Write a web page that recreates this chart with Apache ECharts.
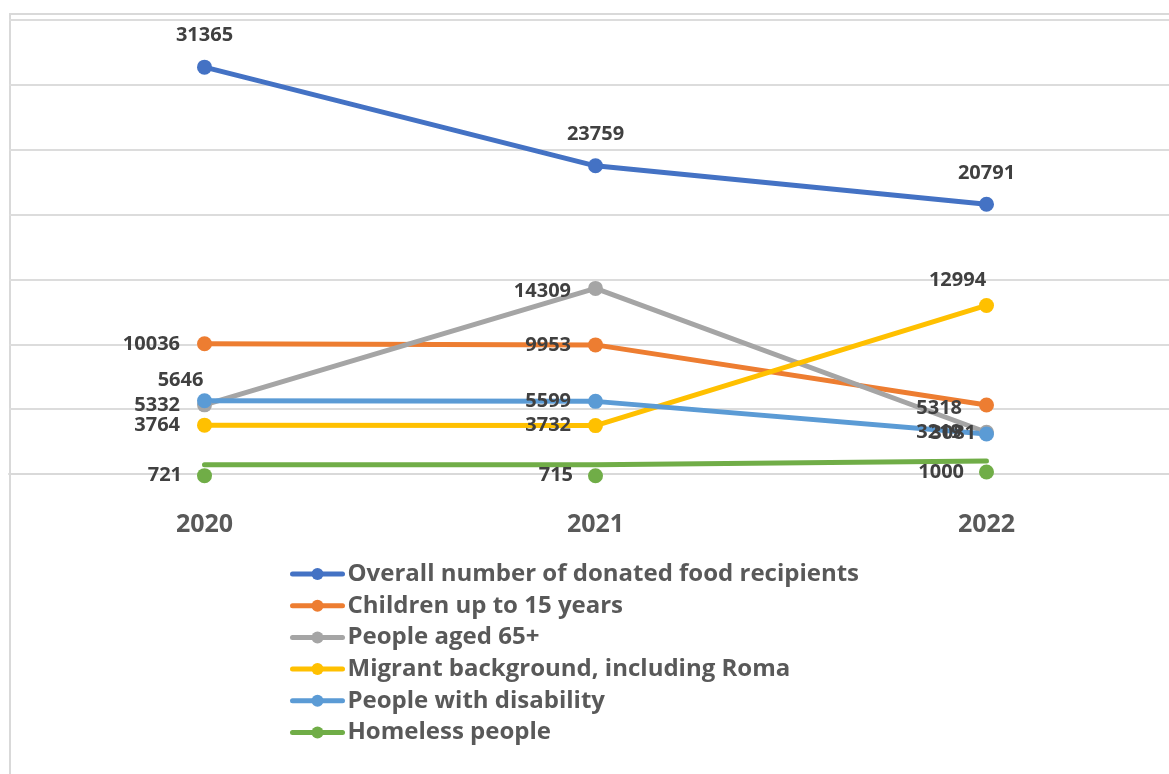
<!DOCTYPE html>
<html>
<head>
<meta charset="utf-8">
<script src="https://cdn.jsdelivr.net/npm/echarts@6/dist/echarts.min.js"></script>
<style>
  html, body { margin: 0; padding: 0; background: #ffffff; overflow: hidden; }
  #chart { width: 1190px; height: 774px; }
</style>
</head>
<body>
<div id="chart"></div>
<script>
// Years on the category axis
const years = ['2020', '2021', '2022'];

// Recipients per group and year
const overall = [31365, 23759, 20791];
const children = [10036, 9953, 5318];
const aged65 = [5332, 14309, 3219];
const migrant = [3764, 3732, 12994];
const disability = [5646, 5599, 3081];
const homeless = [721, 715, 1000];

const FONT = '"Open Sans", sans-serif';
const LABEL_COLOR = '#404040';

const baseLabel = {
  show: true,
  fontFamily: FONT,
  fontWeight: 'bold',
  fontSize: 20,
  color: LABEL_COLOR
};

// Label placement for each point of each series
const placements = {
  overall: [{ position: 'top', distance: 14 }, { position: 'top', distance: 14 }, { position: 'top', distance: 14 }],
  children: [{ position: 'left', distance: 17 }, { position: 'left', distance: 17 }, { position: 'left', distance: 17, offset: [0, 3] }],
  aged65: [{ position: 'left', distance: 17 }, { position: 'left', distance: 17, offset: [0, 3] }, { position: 'left', distance: 17 }],
  migrant: [{ position: 'left', distance: 17 }, { position: 'left', distance: 17 }, { position: 'top', distance: 8, offset: [-29, 0] }],
  disability: [{ position: 'top', distance: 3, offset: [-24, 0] }, { position: 'left', distance: 17 }, { position: 'left', distance: 17, offset: [14, -1] }],
  homeless: [{ position: 'left', distance: 15 }, { position: 'left', distance: 15 }, { position: 'left', distance: 15 }]
};

function points(values, place) {
  return values.map((v, i) => ({
    value: v,
    label: Object.assign({}, baseLabel, place[i])
  }));
}

function lineSeries(name, values, color, place, extra) {
  return Object.assign({
    name: name,
    type: 'line',
    data: points(values, place),
    symbol: 'circle',
    symbolSize: 15,
    showSymbol: true,
    lineStyle: { width: 5, color: color, cap: 'round' },
    itemStyle: { color: color },
    emphasis: { disabled: true },
    animation: false
  }, extra || {});
}

const chart = echarts.init(document.getElementById('chart'), null, { renderer: 'canvas' });

chart.setOption({
  backgroundColor: '#ffffff',
  animation: false,
  graphic: [{
    type: 'rect',
    silent: true,
    z: -10,
    shape: { x: 10, y: 14, width: 1200, height: 800 },
    style: { fill: 'none', stroke: '#d9d9d9', lineWidth: 2 }
  }],
  grid: { left: 9, top: 20, width: 1173, bottom: 300, containLabel: false },
  xAxis: {
    type: 'category',
    data: years,
    boundaryGap: true,
    axisLine: { show: true, lineStyle: { color: '#d9d9d9', width: 2 } },
    axisTick: { show: false },
    axisLabel: {
      fontFamily: FONT,
      fontWeight: 'bold',
      fontSize: 25,
      color: '#595959',
      margin: 38
    }
  },
  yAxis: {
    type: 'value',
    min: 0,
    max: 35000,
    interval: 5000,
    axisLine: { show: false },
    axisTick: { show: false },
    axisLabel: { show: false },
    splitLine: { show: true, lineStyle: { color: '#dcdcdc', width: 2 } }
  },
  legend: {
    orient: 'vertical',
    left: 285,
    top: 557,
    itemWidth: 50,
    itemHeight: 15,
    itemGap: 7.7,
    lineStyle: { width: 5 },
    textStyle: {
      fontFamily: FONT,
      fontWeight: 'bold',
      fontSize: 24,
      lineHeight: 24,
      color: '#595959'
    },
    selectedMode: false,
    data: [
      'Overall number of donated food recipients',
      'Children up to 15 years',
      'People aged 65+',
      'Migrant background, including Roma',
      'People with disability',
      'Homeless people'
    ]
  },
  series: [
    lineSeries('Overall number of donated food recipients', overall, '#4472c4', placements.overall),
    lineSeries('Children up to 15 years', children, '#ed7d31', placements.children),
    lineSeries('People aged 65+', aged65, '#a5a5a5', placements.aged65),
    lineSeries('Migrant background, including Roma', migrant, '#ffc000', placements.migrant),
    lineSeries('People with disability', disability, '#5b9bd5', placements.disability),
    lineSeries('Homeless people', homeless, '#70ad47', placements.homeless, { symbolOffset: [0, 11] })
  ]
});
</script>
</body>
</html>
